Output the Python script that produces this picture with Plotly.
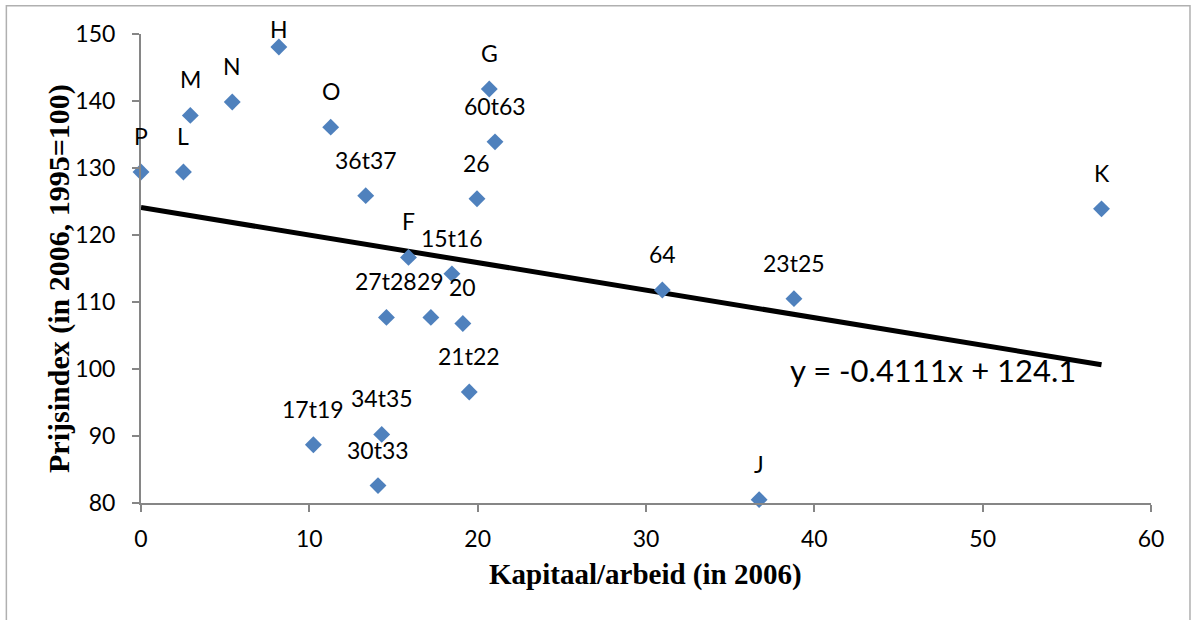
import plotly.graph_objects as go

# ---- data ----
labels = ["P", "L", "M", "N", "H", "O", "36t37", "G", "60t63", "26", "F", "15t16",
          "64", "23t25", "K", "27t28", "29", "20", "21t22", "17t19", "34t35", "30t33", "J"]
kap = [0.0, 2.52, 2.93, 5.42, 8.19, 11.27, 13.35, 20.69, 21.03, 19.96, 15.89, 18.47,
       30.97, 38.79, 57.06, 14.58, 17.22, 19.12, 19.5, 10.24, 14.3, 14.08, 36.72]
prijs = [129.4, 129.4, 137.85, 139.85, 148.06, 136.1, 125.87, 141.8, 133.9, 125.4, 116.66, 114.2,
         111.8, 110.5, 123.9, 107.7, 107.7, 106.8, 96.57, 88.7, 90.24, 82.6, 80.5]
slope = -0.4111
intercept = 124.1
x_ticks = [0, 10, 20, 30, 40, 50, 60]
y_ticks = [80, 90, 100, 110, 120, 130, 140, 150]

# ---- styling ----
label_shift = [36 if l != "H" else 18 for l in labels]
BLUE = "#4F81BD"
AXIS = "#868686"
SANS = "Lato"
SERIF = "Liberation Serif"
LBL = 23

fig = go.Figure()

trend_x = [0, max(kap)]
trend_y = [slope * v + intercept for v in trend_x]
fig.add_trace(go.Scatter(x=trend_x, y=trend_y, mode="lines",
                         line=dict(color="black", width=5), cliponaxis=False,
                         hoverinfo="skip", showlegend=False))

fig.add_trace(go.Scatter(x=kap, y=prijs, mode="markers",
                         marker=dict(symbol="diamond", size=13, color=BLUE, line=dict(width=0)),
                         cliponaxis=False, text=labels, showlegend=False))

for lx, ly, lt, sh in zip(kap, prijs, labels, label_shift):
    fig.add_annotation(x=lx, y=ly, text=lt, showarrow=False, yshift=sh,
                       xanchor="center", yanchor="middle",
                       font=dict(family=SANS, size=LBL, color="black"))

fig.add_annotation(x=47.05, y=99.9, text=f"y = {slope}x + {intercept}", showarrow=False,
                   xanchor="center", yanchor="middle",
                   font=dict(family=SANS, size=31, color="black"))

fig.add_annotation(xref="paper", yref="paper", x=0.4997, y=-0.153,
                   text="<b>Kapitaal/arbeid (in 2006)</b>", showarrow=False,
                   xanchor="center", yanchor="middle",
                   font=dict(family=SERIF, size=29, color="black"))
fig.add_annotation(xref="paper", yref="paper", x=-0.0819, y=0.4783, textangle=-90,
                   text="<b>Prijsindex (in 2006, 1995=100)</b>", showarrow=False,
                   xanchor="center", yanchor="middle",
                   font=dict(family=SERIF, size=30, color="black"))

fig.add_shape(type="rect", xref="paper", yref="paper",
              x0=-0.1333, x1=1.0386, y0=-0.30, y1=1.0603,
              line=dict(color="#B0B0B0", width=1.5), fillcolor="rgba(0,0,0,0)", layer="below")

fig.update_xaxes(range=[0, 60], tickvals=x_ticks, showgrid=False, zeroline=False,
                 showline=True, linecolor=AXIS, linewidth=2,
                 ticks="outside", ticklen=7, tickwidth=1.5, tickcolor=AXIS,
                 ticklabelstandoff=7,
                 tickfont=dict(family=SANS, size=LBL, color="black"))
fig.update_yaxes(range=[80, 150], tickvals=y_ticks, showgrid=False, zeroline=False,
                 showline=True, linecolor=AXIS, linewidth=2,
                 ticks="outside", ticklen=7, tickwidth=1.5, tickcolor=AXIS,
                 ticklabelstandoff=12,
                 tickfont=dict(family=SANS, size=LBL, color="black"))

fig.update_layout(width=1191, height=620, autosize=False,
                  margin=dict(l=141, r=40, t=34, b=117),
                  paper_bgcolor="white", plot_bgcolor="white")

fig.write_html("out.html")
